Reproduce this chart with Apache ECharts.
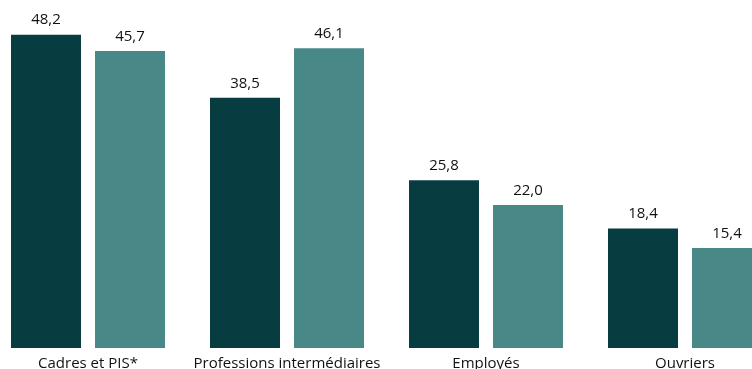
<!DOCTYPE html>
<html><head><meta charset="utf-8">
<script src="https://cdn.jsdelivr.net/npm/echarts@6/dist/echarts.min.js"></script>
<style>html,body{margin:0;padding:0;background:#fff}#c{width:752px;height:369px}</style>
</head><body><div id="c"></div>
<script>
const categories = ["Cadres et PIS*", "Professions intermédiaires", "Employés", "Ouvriers"];
const series1 = [48.2, 38.5, 25.8, 18.4];
const series2 = [45.7, 46.1, 22.0, 15.4];
const colors = ["#073d40", "#488887"];
const fmt = p => p.value.toFixed(1).replace('.', ',');
const chart = echarts.init(document.getElementById('c'));
const lbl = {show: true, position: 'top', distance: 7, color: '#111', fontSize: 15, fontFamily: 'Open Sans', formatter: fmt};
chart.setOption({
  animation: false,
  grid: {left: -11.5, width: 796, top: 23, bottom: 21, containLabel: false, outerBoundsMode: 'none'},
  xAxis: {type: 'category', data: categories, axisLine: {show: false}, axisTick: {show: false},
    axisLabel: {interval: 0, margin: 8, fontSize: 15, color: '#111', fontFamily: 'Open Sans'}},
  yAxis: {type: 'value', min: 0, max: 50, show: false, splitLine: {show: false}},
  series: [
    {type: 'bar', data: series1, barWidth: 70, barGap: '20%', itemStyle: {color: colors[0]}, label: lbl},
    {type: 'bar', data: series2, barWidth: 70, itemStyle: {color: colors[1]}, label: lbl}
  ]
});
</script></body></html>
